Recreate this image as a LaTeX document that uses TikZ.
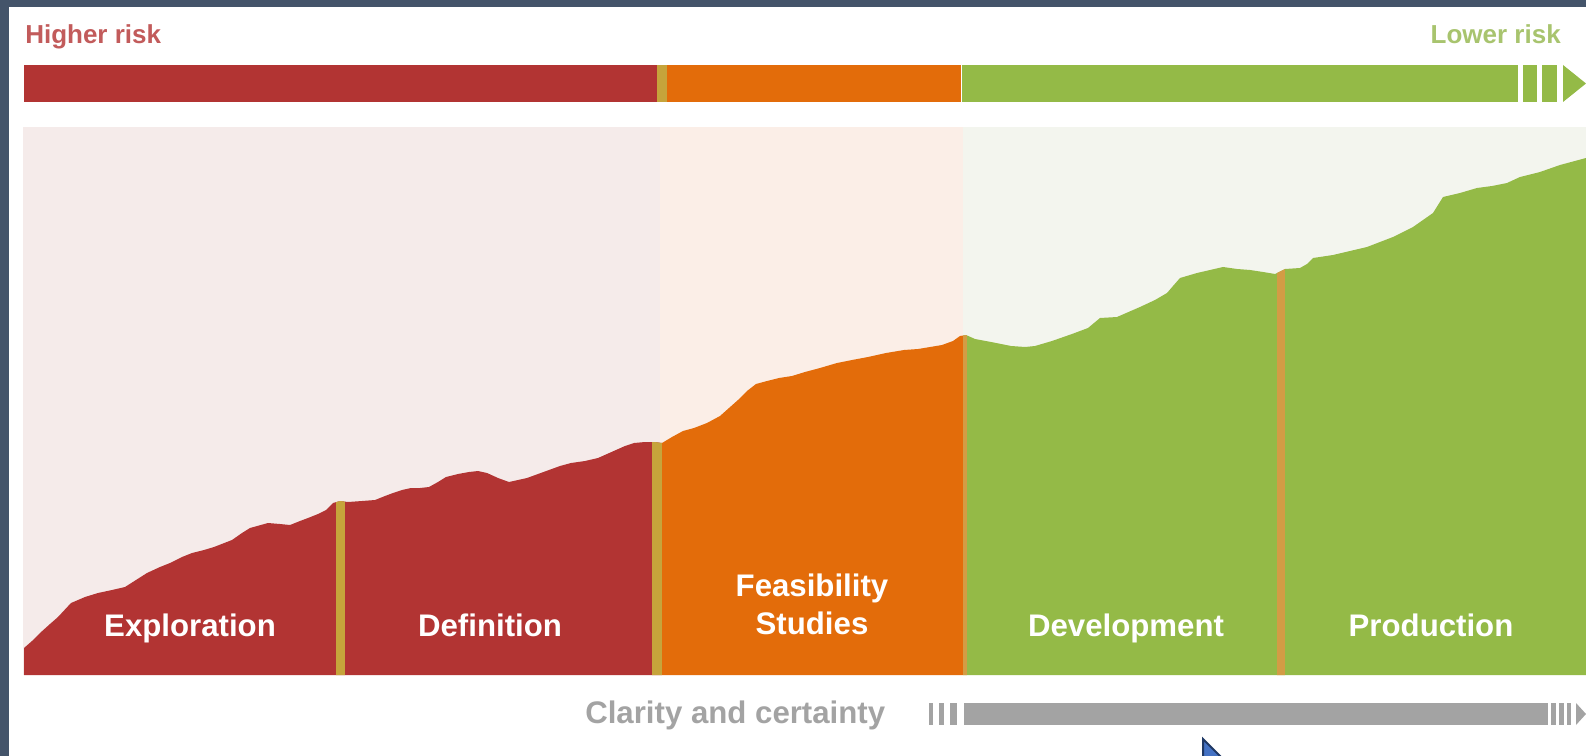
\documentclass[tikz,border=0pt]{standalone}
\usepackage{fontspec}
\setmainfont{Liberation Sans}
\definecolor{frame}{HTML}{44546A}
\definecolor{cred}{HTML}{B23433}
\definecolor{corange}{HTML}{E36C0A}
\definecolor{cgreen}{HTML}{94BA47}
\definecolor{sepgold}{HTML}{C6A43B}
\definecolor{septan}{HTML}{D39C45}
\definecolor{bgpink}{HTML}{F5EBEA}
\definecolor{bgpeach}{HTML}{FBEEE7}
\definecolor{bggreen}{HTML}{F3F5EE}
\definecolor{hrisk}{HTML}{C25B5B}
\definecolor{lrisk}{HTML}{A8C46E}
\definecolor{cgray}{HTML}{A3A3A3}
\definecolor{ptrblue}{HTML}{4472C4}
\definecolor{ptrdark}{HTML}{1F3864}
\newcommand\riskpath{(24,675) -- (24,648) -- (32,641) -- (40,633) -- (50,624) -- (58,617) -- (71,603) -- (85,597) -- (98,593) -- (112,590) -- (125,587) -- (136,580) -- (147,573) -- (160,567) -- (170,563) -- (182,557) -- (192,553) -- (204,550) -- (214,547) -- (232,540) -- (242,533) -- (250,528) -- (268,523) -- (280,524) -- (290,525) -- (300,521) -- (308,518) -- (318,514) -- (326,510) -- (333,503) -- (340,501) -- (348,502) -- (362,501) -- (375,500) -- (385,496) -- (393,493) -- (402,490) -- (411,488) -- (420,488) -- (429,487) -- (438,482) -- (446,477) -- (458,474) -- (469,472) -- (478,471) -- (487,473) -- (498,478) -- (509,482) -- (518,480) -- (527,478) -- (538,474) -- (549,470) -- (560,466) -- (571,463) -- (585,461) -- (598,458) -- (607,454) -- (616,450) -- (625,446) -- (634,443) -- (645,442) -- (655,442) -- (662,443) -- (672,437) -- (683,431) -- (694,428) -- (707,423) -- (720,416) -- (729,408) -- (738,400) -- (747,391) -- (756,384) -- (767,381) -- (779,378) -- (792,376) -- (805,372) -- (820,368) -- (837,363) -- (852,360) -- (868,357) -- (886,353) -- (904,350) -- (918,349) -- (930,347) -- (942,345) -- (953,341) -- (960,336) -- (966,335) -- (975,339) -- (991,342) -- (1011,346) -- (1025,347) -- (1035,346) -- (1052,341) -- (1072,334) -- (1088,328) -- (1100,318) -- (1117,317) -- (1140,307) -- (1155,300) -- (1167,293) -- (1173,286) -- (1180,278) -- (1197,273) -- (1210,270) -- (1223,267) -- (1237,269) -- (1250,270) -- (1263,272) -- (1275,274) -- (1285,269) -- (1300,268) -- (1307,264) -- (1313,258) -- (1333,255) -- (1350,251) -- (1367,247) -- (1380,242) -- (1393,237) -- (1413,227) -- (1433,213) -- (1438,205) -- (1443,197) -- (1460,193) -- (1477,188) -- (1492,186) -- (1507,183) -- (1520,177) -- (1540,172) -- (1560,165) -- (1586,158) -- (1586,675) -- cycle}
\tikzset{
  toplbl/.style={inner sep=0pt, font=\fontsize{19.5pt}{22pt}\selectfont\bfseries},
  phase/.style={inner sep=0pt, text=white, font=\fontsize{23.4pt}{28pt}\selectfont\bfseries},
  clarity/.style={inner sep=0pt, text=cgray, font=\fontsize{23.4pt}{26pt}\selectfont\bfseries}
}
\begin{document}
\begin{tikzpicture}[x=0.75pt,y=-0.75pt]
\useasboundingbox (0,0) rectangle (1586,756);
\fill[white] (0,0) rectangle (1586,756);
% frame
\fill[frame] (0,0) rectangle (1586,7);
\fill[frame] (0,0) rectangle (8.5,756);
% top labels
\node[toplbl, anchor=base west, text=hrisk] (hr) at (25,44) {Higher risk};
\node[toplbl, anchor=base east, text=lrisk] (lr) at (1561,44) {Lower risk};
% top bar
\fill[cred] (24,65) rectangle (657,102);
\fill[sepgold] (657,65) rectangle (667,102);
\fill[corange] (667,65) rectangle (961,102);
\fill[cgreen] (962,65) rectangle (1518,102);
\fill[cgreen] (1523,65) rectangle (1537,102);
\fill[cgreen] (1542,65) rectangle (1557,102);
\fill[cgreen] (1563,65) -- (1586,83.5) -- (1563,102) -- cycle;
% panel backgrounds
\fill[bgpink] (23,127) rectangle (660,675);
\fill[bgpeach] (660,127) rectangle (963,675);
\fill[bggreen] (963,127) rectangle (1586,675);
% risk area
\begin{scope}
\clip \riskpath;
\fill[cred] (0,0) rectangle (662,700);
\fill[corange] (662,0) rectangle (963,700);
\fill[cgreen] (963,0) rectangle (1586,700);
\fill[sepgold] (336,0) rectangle (345,700);
\fill[sepgold] (652,0) rectangle (662,700);
\fill[septan] (963,0) rectangle (967,700);
\fill[septan] (1277,0) rectangle (1285,700);
\end{scope}
% phase labels
\node[phase, anchor=base] (exp) at (190,636) {Exploration};
\node[phase, anchor=base] (def) at (490,636) {Definition};
\node[phase, anchor=base] (fea) at (812,596) {Feasibility};
\node[phase, anchor=base] (stu) at (812,634) {Studies};
\node[phase, anchor=base] (dev) at (1126,636) {Development};
\node[phase, anchor=base] (pro) at (1431,636) {Production};
% clarity bar
\node[clarity, anchor=base west] (cl) at (585,723) {Clarity and certainty};
\fill[cgray] (929,703) rectangle (933,725);
\fill[cgray] (939,703) rectangle (944,725);
\fill[cgray] (950,703) rectangle (957,725);
\fill[cgray] (964,703) rectangle (1548,725);
\fill[cgray] (1551,703) rectangle (1556,725);
\fill[cgray] (1559,703) rectangle (1564,725);
\fill[cgray] (1567,703) rectangle (1571,725);
\fill[cgray] (1576,703) -- (1586,714) -- (1576,725) -- cycle;
% pointer
\filldraw[fill=ptrblue, draw=ptrdark, line width=1.5] (1203,739) -- (1203,764) -- (1228,764) -- cycle;
\end{tikzpicture}
\end{document}
